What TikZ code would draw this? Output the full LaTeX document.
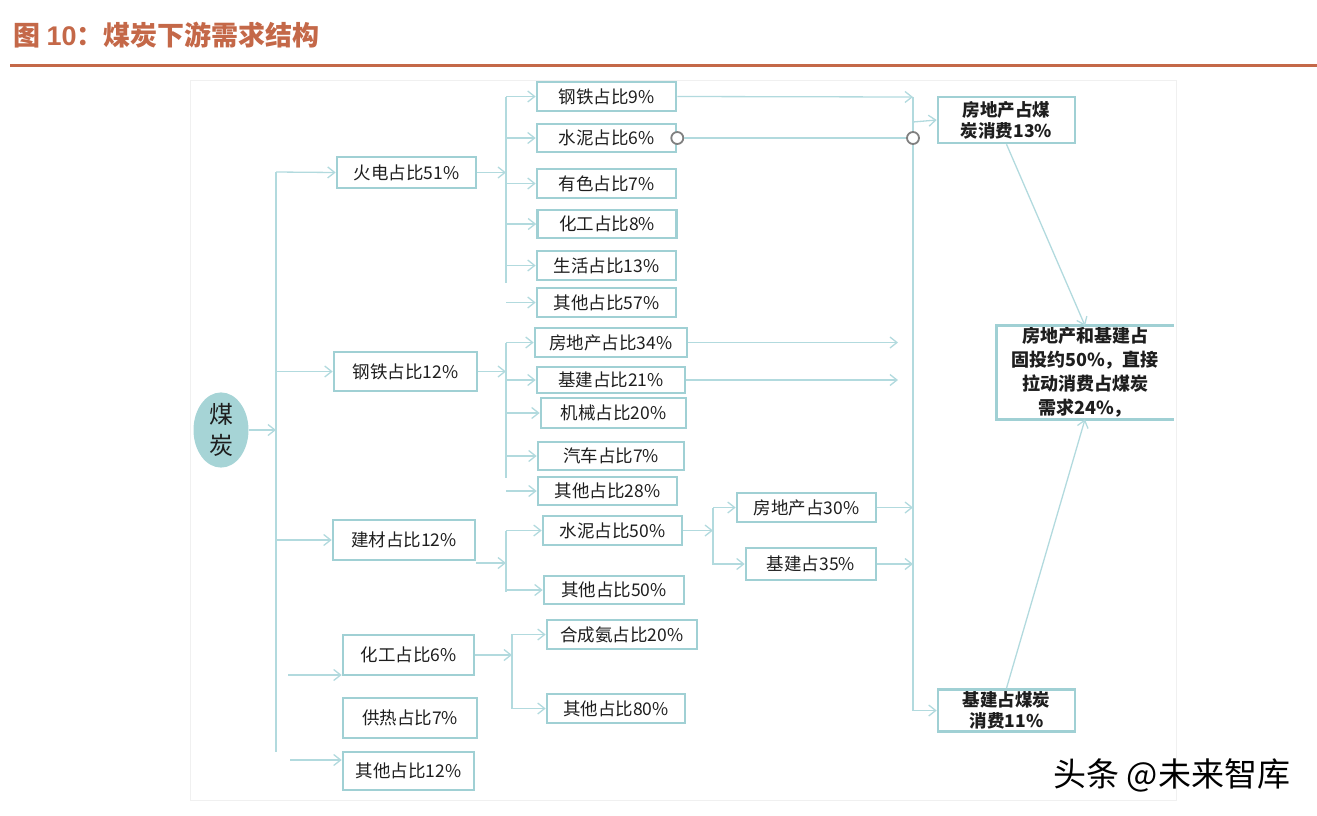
\documentclass[tikz,border=0pt]{standalone}
\usepackage{fontspec}
\setmainfont{Noto Sans CJK SC}
\newfontfamily\titlenum{Liberation Sans}
\usetikzlibrary{arrows.meta,shapes.geometric}
\definecolor{titlered}{RGB}{196,104,72}
\definecolor{boxline}{RGB}{160,208,212}
\definecolor{linkline}{RGB}{178,218,222}
\definecolor{coalfill}{RGB}{166,212,214}
\definecolor{boxtext}{RGB}{30,30,30}
\newcommand{\boxfont}{\fontsize{17.5}{20}\selectfont}
\newcommand{\notefont}{\fontsize{17.5}{21}\selectfont\bfseries}

\begin{document}
\begin{tikzpicture}[x=1pt,y=-1pt,
	cbox/.style 2 args={draw=boxline, line width=2.6pt, inner sep=0pt, text=boxtext, font=\boxfont, minimum width=#1pt, minimum height=#2pt},
	nbox/.style 2 args={cbox={#1}{#2}, font=\notefont, align=center},
	ring/.style={circle, draw=black!50, fill=white, line width=1.8pt, minimum size=12pt, inner sep=0pt},
	link/.style={draw=linkline, line width=1.3pt},
	arr/.style={link, -{Straight Barb[length=7pt,width=11pt]}}]
	\useasboundingbox (0,0) rectangle (1317,815);

	\node[anchor=west, text=titlered, font=\fontsize{27}{30}\selectfont\bfseries] (title) at (10,35) {图 {\titlenum 10}：煤炭下游需求结构};
	\draw[titlered, line width=3pt] (10,65) -- (1317,65);
	\draw[black!6, line width=1pt] (190,80) rectangle (1176,800);

	\node[ellipse, fill=coalfill, minimum width=55pt, minimum height=66pt, inner sep=0pt, align=center, text=boxtext, font=\fontsize{24}{31}\selectfont] (coal) at (221,430) {煤\\炭};

	\node[cbox={139}{31}] (hd) at (406.5,172.5) {火电占比51\%};
	\node[cbox={143}{39}] (gt) at (405.5,371.5) {钢铁占比12\%};
	\node[cbox={142}{40}] (jc) at (404,540) {建材占比12\%};
	\node[cbox={131}{40}] (hg) at (408.5,655) {化工占比6\%};
	\node[cbox={134}{40}] (gr) at (410,718) {供热占比7\%};
	\node[cbox={131}{38}] (qt) at (408.5,771) {其他占比12\%};

	\node[cbox={139}{29}] (a1) at (606.5,96.5) {钢铁占比9\%};
	\node[cbox={139}{28}] (a2) at (606.5,138) {水泥占比6\%};
	\node[cbox={139}{29}] (a3) at (606.5,183.5) {有色占比7\%};
	\node[cbox={139}{28}] (a4) at (607,224) {化工占比8\%};
	\node[cbox={139}{29}] (a5) at (606.5,265.5) {生活占比13\%};
	\node[cbox={139}{29}] (a6) at (606.5,302.5) {其他占比57\%};

	\node[cbox={152}{29}] (b1) at (611,342.5) {房地产占比34\%};
	\node[cbox={148}{26}] (b2) at (611,380) {基建占比21\%};
	\node[cbox={145}{30}] (b3) at (613.5,413) {机械占比20\%};
	\node[cbox={146}{28}] (b4) at (611,456) {汽车占比7\%};
	\node[cbox={139}{28}] (b5) at (607.5,491) {其他占比28\%};

	\node[cbox={139}{29}] (c1) at (612.5,530.5) {水泥占比50\%};
	\node[cbox={140}{28}] (c2) at (614,590) {其他占比50\%};
	\node[cbox={139}{29}] (d1) at (806.5,507.5) {房地产占30\%};
	\node[cbox={130}{32}] (d2) at (811,564) {基建占35\%};

	\node[cbox={150}{29}] (e1) at (622,634.5) {合成氨占比20\%};
	\node[cbox={138}{29}] (e2) at (616,708.5) {其他占比80\%};

	\node[nbox={137}{46}] (r1) at (1006.5,120) {房地产占煤\\炭消费13\%};
	\node[nbox={137}{42}] (r2) at (1006.5,710.5) {基建占煤炭\\消费11\%};
	\node[nbox={175}{91}, draw=none, font=\fontsize{18}{24}\selectfont\bfseries] (big) at (1085,372.5) {房地产和基建占\\固投约50\%，直接\\拉动消费占煤炭\\需求24\%，};
	\draw[boxline, line width=2.6pt] (big.north east) -- (big.north west) -- (big.south west) -- (big.south east);

	\node[anchor=west, font=\fontsize{33}{36}\selectfont] (mark) at (1050,775) {头条 @未来智库};

	% trunk
	\coordinate (t0) at (276,172);
	\coordinate (t9) at (276,752);
	\coordinate (hgin) at (288,675);
	\coordinate (qtin) at (290,760);
	\draw[link] (t0) -- (t9);
	\draw[arr] (coal.east) -- (coal.east -| t0);
	\draw[arr] (t0) -- (hd.west);
	\draw[arr] (gt.west -| t0) -- (gt.west);
	\draw[arr] (jc.west -| t0) -- (jc.west);
	\draw[arr] (hgin) -- (hgin -| hg.west);
	\draw[arr] (qtin) -- (qtin -| qt.west);

	% branches
	\coordinate (ba) at (506,97);
	\coordinate (ba9) at (506,283);
	\draw[link] (ba) -- (ba9);
	\draw[arr] (hd.east) -- (hd.east -| ba);
	\foreach \i in {1,...,6} \draw[arr] (a\i.west -| ba) -- (a\i.west);

	\coordinate (bb) at (506,343);
	\coordinate (bb9) at (506,478);
	\draw[link] (bb) -- (bb9);
	\draw[arr] (gt.east) -- (gt.east -| bb);
	\foreach \i in {1,...,5} \draw[arr] (b\i.west -| bb) -- (b\i.west);

	\coordinate (bc) at (506,531);
	\coordinate (bc9) at (506,592);
	\coordinate (cin) at (506,563);
	\draw[link] (bc) -- (bc9);
	\draw[arr] (jc.east |- cin) -- (cin);
	\foreach \i in {1,2} \draw[arr] (c\i.west -| bc) -- (c\i.west);

	\coordinate (bd) at (713,508);
	\coordinate (bd9) at (713,565);
	\draw[link] (bd) -- (bd9);
	\draw[arr] (c1.east) -- (c1.east -| bd);
	\foreach \i in {1,2} \draw[arr] (d\i.west -| bd) -- (d\i.west);

	\coordinate (be) at (512,634);
	\coordinate (be9) at (512,709);
	\draw[link] (be) -- (be9);
	\draw[arr] (hg.east) -- (hg.east -| be);
	\foreach \i in {1,2} \draw[arr] (e\i.west -| be) -- (e\i.west);

	% right side
	\coordinate (rt) at (913,97);
	\coordinate (rin) at (913,122);
	\coordinate (fe) at (898,343);
	\draw[arr] (rt) |- (r2.west);
	\draw[arr] (a1.east) -- (rt);
	\draw[arr] (rin) -- (r1.west);
	\draw[arr] (d1.east) -- (d1.east -| rt);
	\draw[arr] (d2.east) -- (d2.east -| rt);
	\draw[arr] (b1.east) -- (b1.east -| fe);
	\draw[arr] (b2.east) -- (b2.east -| fe);
	\node[ring] (o1) at (a2.east) {};
	\node[ring] (o2) at (a2.east -| rt) {};
	\draw[link] (o1) -- (o2);
	\draw[arr] (r1.south) -- (big.north);
	\draw[arr] (r2.north) -- (big.south);
\end{tikzpicture}
\end{document}
